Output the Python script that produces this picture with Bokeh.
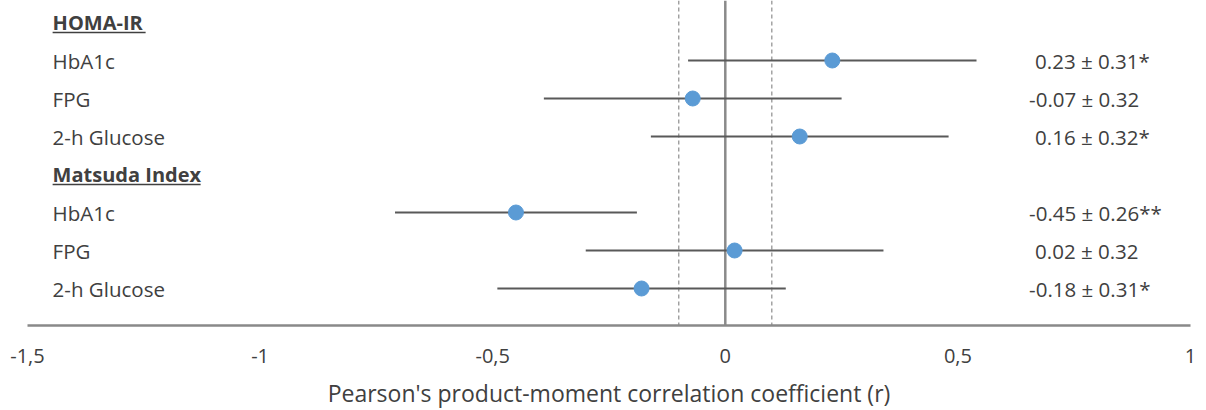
from bokeh.plotting import figure
from bokeh.models import Range1d, FixedTicker, CustomJSTickFormatter, ColumnDataSource
from bokeh.core.properties import value
from bokeh.embed import file_html
from bokeh.resources import INLINE

# ---- data ----
row_labels = ["HOMA-IR", "HbA1c", "FPG", "2-h Glucose",
              "Matsuda Index", "HbA1c", "FPG", "2-h Glucose"]
is_header = [True, False, False, False, True, False, False, False]
r_values = [0.23, -0.07, 0.16, -0.45, 0.02, -0.18]
ci_half = [0.31, 0.32, 0.32, 0.26, 0.32, 0.31]
significance = ["*", "", "*", "**", "", "*"]
x_ticks = [-1.5, -1, -0.5, 0, 0.5, 1]
ref_lines = [-0.1, 0.1]
x_title = "Pearson's product-moment correlation coefficient (r)"

# ---- layout helpers ----
FONT = "Open Sans"
TXT = "#404040"
W, H = 1206, 410
row_px = 38.0
first_row_px = 22.0
axis_px = 325.0
y_bottom = (H - first_row_px) / row_px      # frame spans the whole height
y_top = (0 - first_row_px) / row_px
y_axis = (axis_px - first_row_px) / row_px  # where the x axis sits
x_lo, x_hi = -1.5, 1.0
left_px, right_px = 27.0, 1190.0
ppu = (right_px - left_px) / (x_hi - x_lo)
view_lo = x_lo - left_px / ppu
view_hi = x_hi + (W - right_px) / ppu

data_rows = [i for i, h in enumerate(is_header) if not h]
header_rows = [i for i, h in enumerate(is_header) if h]

p = figure(width=W, height=H, output_backend="svg", toolbar_location=None,
           x_range=Range1d(view_lo, view_hi), y_range=Range1d(y_bottom, y_top),
           min_border_left=0, min_border_right=0, min_border_top=0,
           min_border_bottom=0)
p.outline_line_color = None
p.xgrid.visible = False
p.ygrid.visible = False
p.yaxis.visible = False
p.background_fill_color = "white"
p.border_fill_color = "white"

# x axis
ax = p.xaxis[0]
ax.fixed_location = y_axis
ax.bounds = (x_lo, x_hi)
ax.ticker = FixedTicker(ticks=x_ticks)
ax.formatter = CustomJSTickFormatter(code="return tick.toString().replace('.', ',');")
ax.axis_line_color = "#898989"
ax.axis_line_width = 2.5
ax.major_tick_line_color = None
ax.minor_tick_line_color = None
ax.major_label_text_font = FONT
ax.major_label_text_font_size = "20px"
ax.major_label_text_color = TXT
ax.major_label_standoff = 17
ax.axis_label = x_title
ax.axis_label_text_font = FONT
ax.axis_label_text_font_size = "23px"
ax.axis_label_text_font_style = "normal"
ax.axis_label_text_color = TXT
ax.axis_label_standoff = 11

# reference lines
p.segment(x0=ref_lines, x1=ref_lines, y0=[y_top] * 2, y1=[y_axis] * 2,
          line_color="#8c8c8c", line_width=1.2, line_dash="4 3")
p.segment(x0=[0], x1=[0], y0=[y_top], y1=[y_axis],
          line_color="#8a8a8a", line_width=2.5)

# error bars and points
src = ColumnDataSource(dict(
    y=data_rows,
    r=r_values,
    lo=[r - c for r, c in zip(r_values, ci_half)],
    hi=[r + c for r, c in zip(r_values, ci_half)],
    txt=[f"{r:.2f} ± {c:.2f}{s}"
         for r, c, s in zip(r_values, ci_half, significance)],
    xoff=[6 if r >= 0 else 0 for r in r_values],
))
p.segment(x0="lo", x1="hi", y0="y", y1="y", source=src,
          line_color="#595959", line_width=2)
p.scatter(x="r", y="y", source=src, size=15, fill_color="#5b9bd5",
          line_color="#5b9bd5")

# value labels
p.text(x=0.653, y="y", text="txt", source=src, x_offset="xoff",
       text_font=value(FONT), text_font_size="20.5px", text_color=TXT,
       text_baseline="middle", text_align="left")

# row labels
label_x = -1.446
p.text(x=[label_x] * len(data_rows), y=data_rows,
       text=[row_labels[i] for i in data_rows], text_font=value(FONT),
       text_font_size="20.5px", text_color=TXT, text_baseline="middle",
       text_align="left")
p.text(x=[label_x] * len(header_rows), y=header_rows,
       text=[row_labels[i] for i in header_rows], text_font=value(FONT),
       text_font_size="20px", text_font_style="bold", text_color=TXT,
       text_baseline="middle", text_align="left")
# underlines for headers
ul_len = [93 / ppu, 148 / ppu]
ul_y = [h + 10 / row_px for h in header_rows]
p.segment(x0=[label_x] * 2, x1=[label_x + l for l in ul_len], y0=ul_y, y1=ul_y,
          line_color=TXT, line_width=1.5)

open("out.html", "w").write(file_html(p, INLINE))
